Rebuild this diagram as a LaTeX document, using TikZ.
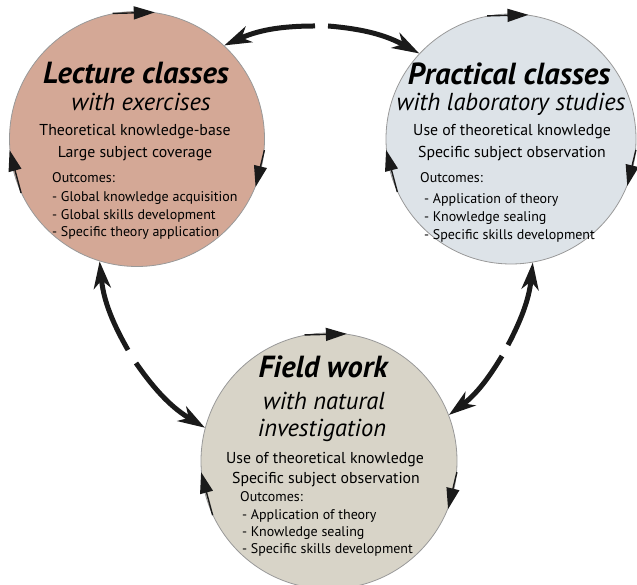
\documentclass[tikz,border=0pt]{standalone}
\usepackage{fontspec}
\setmainfont{PT Sans}
\usetikzlibrary{arrows.meta}
\definecolor{lecfill}{HTML}{D4A896}
\definecolor{prafill}{HTML}{DDE3E8}
\definecolor{fldfill}{HTML}{D8D4C8}
\definecolor{rim}{HTML}{999999}
\definecolor{ink}{HTML}{1A1A1A}
\begin{document}
\begin{tikzpicture}[x=1pt,y=1pt,
 circ/.style={circle,draw=rim,line width=0.8pt,inner sep=0pt},
 smallarr/.style={line width=1.4pt,ink,-{Triangle[length=21pt,width=13pt]}},
 bigarr/.style={line width=5pt,ink,-{Stealth[length=27pt,width=17pt,inset=8pt]}},
 ttl/.style={anchor=base,inner sep=0pt,font=\fontsize{30.5}{30.5}\selectfont\bfseries\itshape},
 sub/.style={anchor=base,inner sep=0pt,font=\fontsize{24.5}{24.5}\selectfont\itshape},
 info/.style={anchor=base,inner sep=0pt,font=\fontsize{15.8}{15.8}\selectfont},
 outc/.style={anchor=base west,inner sep=0pt,font=\fontsize{14}{14}\selectfont}]
\useasboundingbox (0,0) rectangle (637,585);

% circles
\node[circ,fill=lecfill,minimum size=255pt] (lec) at (137,446) {};
\node[circ,fill=prafill,minimum size=250pt] (pra) at (511,446) {};
\node[circ,fill=fldfill,minimum size=256pt] (fld) at (329,124) {};

% small clockwise arrows on each circle
\foreach \n in {lec,pra,fld}{
  \draw[smallarr] (\n.101) -- (\n.82);
  \draw[smallarr] (\n.355) -- (\n.338);
  \draw[smallarr] (\n.205) -- (\n.185);
}

% big double arrows with a gap
\coordinate (g1) at (315,559);
\coordinate (g2) at (328,559);
\coordinate (g3) at (128,235);
\coordinate (g4) at (136,222);
\coordinate (g5) at (508,240);
\coordinate (g6) at (502,229);
\draw[bigarr] (g1) to[bend right=12] (lec.47);
\draw[bigarr] (g2) to[bend left=12] (pra.137);
\draw[bigarr] (g3) to[bend left=12] (lec.253);
\draw[bigarr] (g4) to[bend right=12] (fld.165);
\draw[bigarr] (g5) to[bend right=11] (pra.280);
\draw[bigarr] (g6) to[bend left=11] (fld.21);

% Lecture texts
\node[ttl] (lt1) at (136,501) {Lecture classes};
\node[sub] (lt2) at (141,474) {with exercises};
\node[info] (lt3) at (135,449) {Theoretical knowledge-base};
\node[info] (lt4) at (135,427) {Large subject coverage};
\node[outc] (lt5) at (52,402) {Outcomes:};
\node[outc] (lt6) at (52,383) {- Global knowledge acquisition};
\node[outc] (lt7) at (52,365) {- Global skills development};
\node[outc] (lt8) at (52,348) {- Specific theory application};

% Practical texts
\node[ttl] (pt1) at (509,500) {Practical classes};
\node[sub] (pt2) at (511,474) {with laboratory studies};
\node[info] (pt3) at (512,449) {Use of theoretical knowledge};
\node[info] (pt4) at (512,427) {Specific subject observation};
\node[outc] (pt5) at (420,402) {Outcomes:};
\node[outc] (pt6) at (424,381) {- Application of theory};
\node[outc] (pt7) at (424,363) {- Knowledge sealing};
\node[outc] (pt8) at (424,345) {- Specific skills development};

% Field texts
\node[ttl] (ft1) at (323,207) {Field work};
\node[sub] (ft2) at (324,175) {with natural};
\node[sub] (ft3) at (322,148) {investigation};
\node[info] (ft4) at (325,121.5) {Use of theoretical knowledge};
\node[info] (ft5) at (326,101.5) {Specific subject observation};
\node[outc] (ft6) at (240,83) {Outcomes:};
\node[outc] (ft7) at (242,65) {- Application of theory};
\node[outc] (ft8) at (242,48) {- Knowledge sealing};
\node[outc] (ft9) at (242,31) {- Specific skills development};
\end{tikzpicture}
\end{document}
